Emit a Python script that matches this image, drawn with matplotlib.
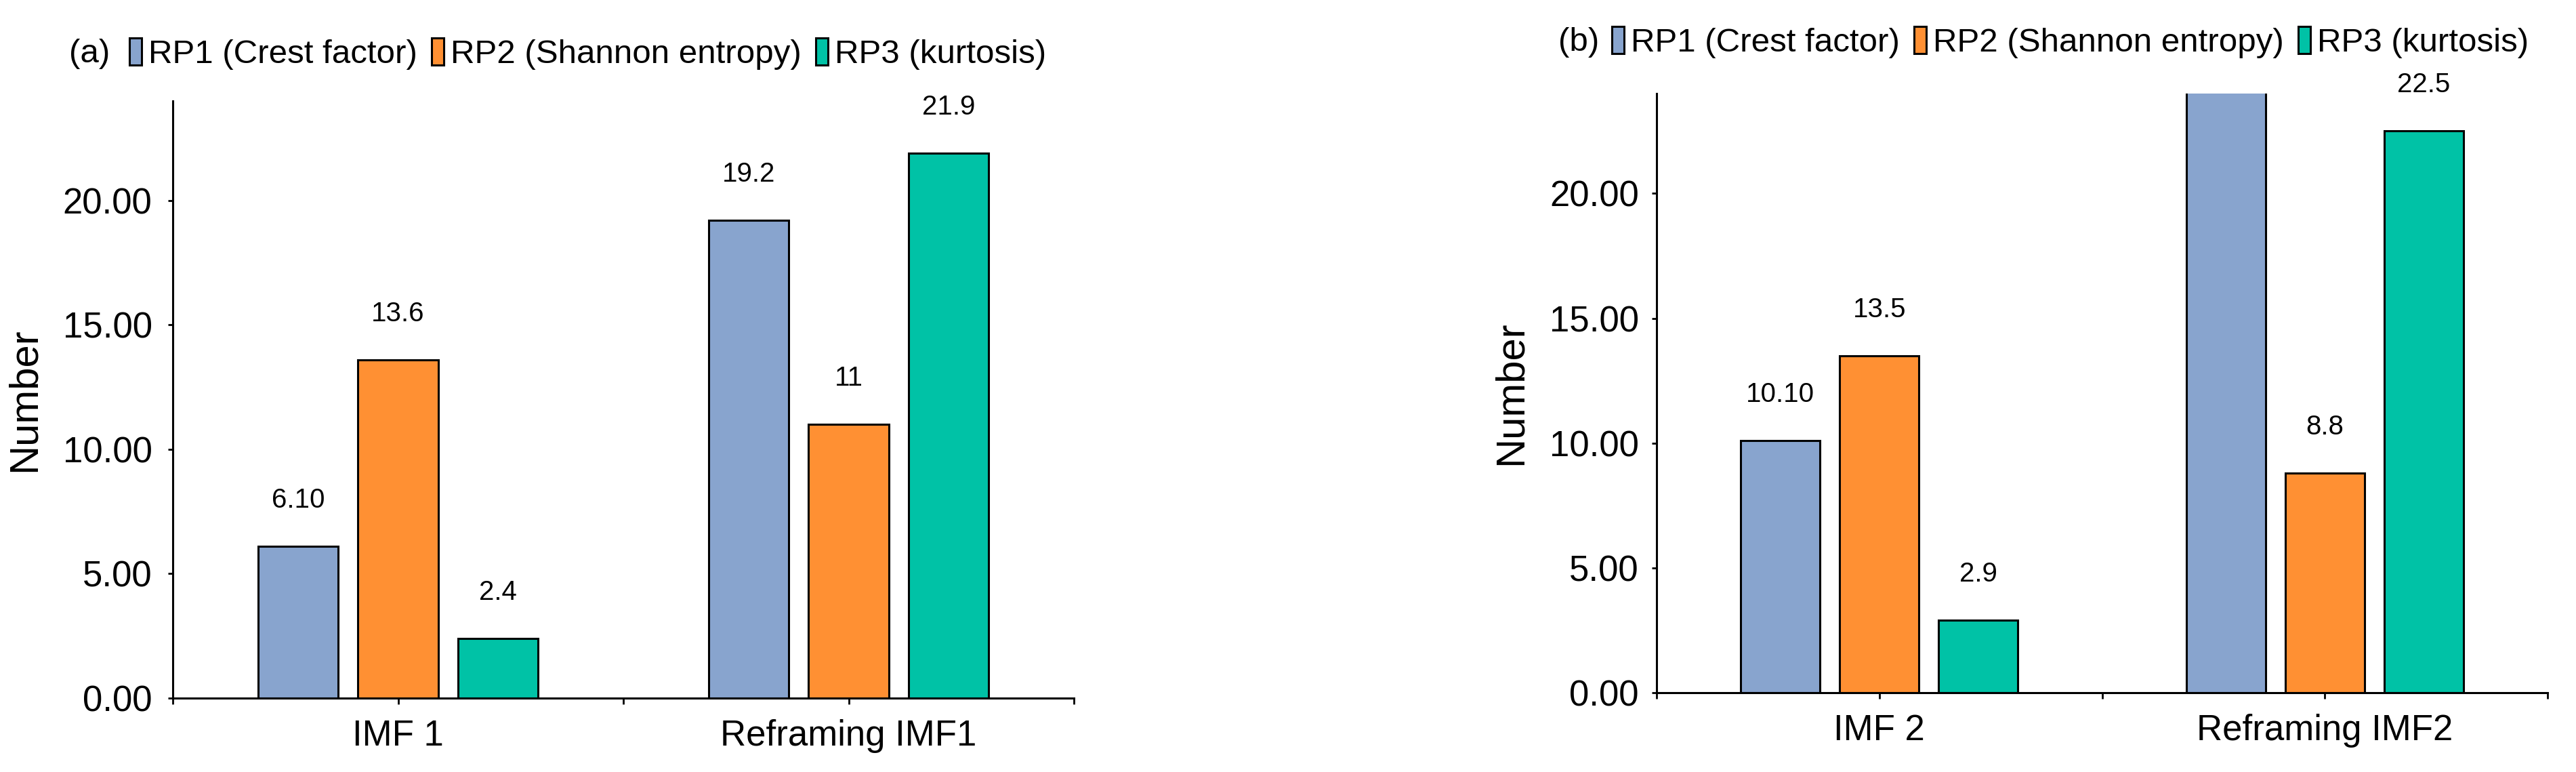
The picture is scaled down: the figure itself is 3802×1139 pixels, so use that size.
import matplotlib
matplotlib.use("Agg")
import matplotlib.pyplot as plt
import numpy as np


SERIES = ["RP1 (Crest factor)", "RP2 (Shannon entropy)", "RP3 (kurtosis)"]
COLORS = ["#88A4CE", "#FF9033", "#00C2A6"]

CATEGORIES_A = ["IMF 1", "Reframing IMF1"]
VALUES_A = [[6.10, 19.2], [13.6, 11.0], [2.4, 21.9]]
LABELS_A = [["6.10", "19.2"], ["13.6", "11"], ["2.4", "21.9"]]

CATEGORIES_B = ["IMF 2", "Reframing IMF2"]
# RP1 of Reframing IMF2 runs past the top of the axis; its value is an estimate
VALUES_B = [[10.10, 26.0], [13.5, 8.8], [2.9, 22.5]]
LABELS_B = [["10.10", "26.0"], ["13.5", "8.8"], ["2.9", "22.5"]]

Y_TICKS = [0, 5, 10, 15, 20]
Y_MAX = 24


def draw_panel(fig, rect, tag, tag_x, legend_x, legend_y, categories, values, labels, ypad):
    ax = fig.add_axes(rect)
    x = np.arange(len(categories))
    width = 0.178
    step = 0.222
    for i, (name, color) in enumerate(zip(SERIES, COLORS)):
        pos = x + (i - 1) * step
        ax.bar(pos, values[i], width, color=color, edgecolor="black",
               linewidth=2.2, label=name, zorder=2)
        for px, val, lab in zip(pos, values[i], labels[i]):
            # annotations whose anchor is above the axis are not drawn
            ax.annotate(lab, (px, val), xytext=(0, 41), textcoords="offset points",
                        ha="center", va="baseline", fontsize=29)

    ax.set_xlim(-0.5, len(categories) - 0.5)
    ax.set_ylim(0, Y_MAX)
    ticks = np.arange(-0.5, len(categories), 0.5)
    ax.set_xticks(ticks)
    ax.set_xticklabels(["" if t % 1 else categories[int(t)] for t in ticks])
    ax.set_yticks(Y_TICKS)
    ax.set_yticklabels([f"{v:.2f}" for v in Y_TICKS])
    ax.tick_params(axis="x", direction="out", length=6.5, width=2, pad=16, labelsize=38)
    ax.tick_params(axis="y", direction="out", length=5, width=2, pad=ypad, labelsize=38)
    ax.set_ylabel("Number", fontsize=43, labelpad=21)
    for side in ["top", "right"]:
        ax.spines[side].set_visible(False)
    for side in ["left", "bottom"]:
        ax.spines[side].set_linewidth(2.2)

    fig.text(tag_x, legend_y, tag, fontsize=35.5, va="center", ha="left")
    fig.legend(
        *ax.get_legend_handles_labels(),
        loc="center left",
        bbox_to_anchor=(legend_x, legend_y),
        ncol=3,
        frameon=False,
        fontsize=35.5,
        borderpad=0,
        borderaxespad=0,
        handlelength=0.37,
        handleheight=0.88,
        handletextpad=0.2,
        columnspacing=0.43,
    )
    return ax


def main():
    plt.rcParams["font.family"] = ["Liberation Sans", "DejaVu Sans"]
    fig = plt.figure(figsize=(38.02, 11.39), dpi=100)

    draw_panel(fig, [0.0671, 0.0957, 0.3498, 0.7735], "(a)", 0.0268, 0.0502, 0.930,
               CATEGORIES_A, VALUES_A, LABELS_A, 17)
    draw_panel(fig, [0.6431, 0.1027, 0.3459, 0.7761], "(b)", 0.6049, 0.6257, 0.945,
               CATEGORIES_B, VALUES_B, LABELS_B, 14)

    fig.savefig("out.png", dpi=100, facecolor="white")


if __name__ == "__main__":
    main()
